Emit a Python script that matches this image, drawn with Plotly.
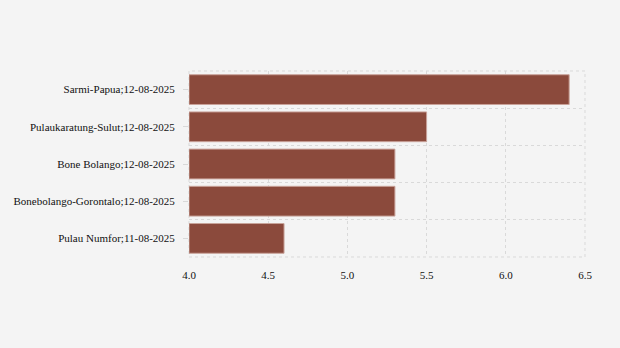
import plotly.graph_objects as go

# Locations with their report dates, top to bottom
locations = [
    "Sarmi-Papua;12-08-2025",
    "Pulaukaratung-Sulut;12-08-2025",
    "Bone Bolango;12-08-2025",
    "Bonebolango-Gorontalo;12-08-2025",
    "Pulau Numfor;11-08-2025",
]
magnitudes = [6.4, 5.5, 5.3, 5.3, 4.6]

x_ticks = [4.0, 4.5, 5.0, 5.5, 6.0, 6.5]
x_tick_labels = ["4.0", "4.5", "5.0", "5.5", "6.0", "6.5"]

axis_start = 4.0

# Top item sits at the highest position on the numeric axis
positions = [len(locations) - 1 - i for i in range(len(locations))]

grid = "#d9d9d9"
bg = "#f4f4f4"
dash = "3px,3px"

fig = go.Figure(
    go.Bar(
        x=[m - axis_start for m in magnitudes],
        base=axis_start,
        y=positions,
        orientation="h",
        width=0.8,
        customdata=magnitudes,
        hovertemplate="%{customdata}<extra></extra>",
        marker=dict(color="#8b4a3c", line=dict(color="#c9a39a", width=1)),
    )
)

# Dashed frame around the plotting area
fig.add_shape(
    type="rect", xref="x domain", yref="y domain",
    x0=0, x1=1, y0=0, y1=1,
    line=dict(color=grid, width=1, dash=dash),
    layer="below",
)

fig.update_layout(
    width=620,
    height=348,
    margin=dict(l=189, r=35, t=71, b=91),
    paper_bgcolor=bg,
    plot_bgcolor=bg,
    font=dict(family="Liberation Serif", size=11, color="#111"),
    showlegend=False,
)
fig.update_xaxes(
    range=[4.0, 6.5],
    tickvals=x_ticks,
    ticktext=x_tick_labels,
    showgrid=True,
    gridcolor=grid,
    griddash=dash,
    gridwidth=1,
    zeroline=False,
    showline=False,
    ticks="outside",
    ticklen=8,
    tickcolor="rgba(0,0,0,0)",
    automargin=False,
)
fig.update_yaxes(
    range=[-0.5, len(locations) - 0.5],
    tickvals=positions,
    ticktext=locations,
    showgrid=False,
    zeroline=False,
    showline=False,
    ticks="outside",
    ticklen=5,
    tickcolor=grid,
    ticklabelstandoff=6,
    automargin=False,
    minor=dict(
        tick0=0.5,
        dtick=1,
        showgrid=True,
        gridcolor=grid,
        griddash=dash,
        gridwidth=1,
        ticks="",
    ),
)

fig.write_html("out.html")
